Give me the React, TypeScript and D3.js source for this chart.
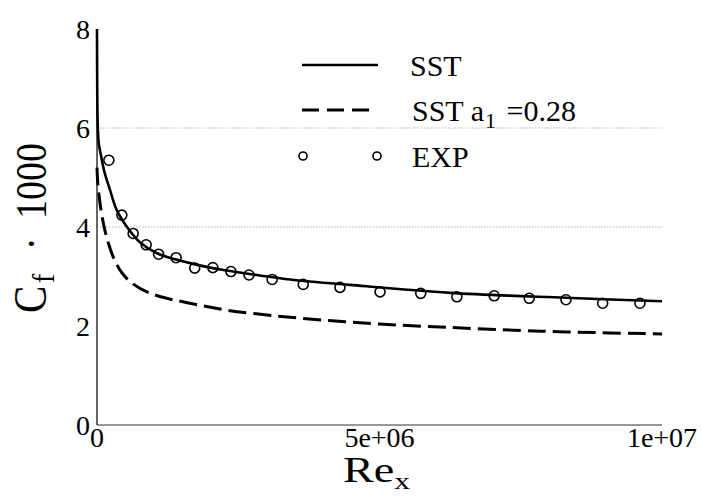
import React from "react";
import * as d3 from "d3";

const xTicks = [0, 5e6, 1e7];
const xTickLabels = ["0", "5e+06", "1e+07"];
const yTicks = [0, 2, 4, 6, 8];
const gridValues = [4, 6];

const sstX = [0, 0.004e6, 0.012e6, 0.03e6, 0.07e6, 0.13e6, 0.23e6, 0.35e6, 0.525e6, 0.76e6, 1.06e6, 1.65e6, 2.24e6, 2.83e6, 3.42e6, 4.48e6, 6.25e6, 8.3e6, 1e7];
const sstY = [8.0, 6.8, 6.1, 5.7, 5.45, 5.12, 4.75, 4.34, 4.01, 3.69, 3.47, 3.27, 3.13, 3.03, 2.94, 2.83, 2.67, 2.57, 2.5];

const a1X = [0, 0.01e6, 0.03e6, 0.07e6, 0.13e6, 0.2e6, 0.3e6, 0.45e6, 0.65e6, 0.9e6, 1.2e6, 1.6e6, 2.3e6, 3.2e6, 4.1e6, 5e6, 6.25e6, 7.5e6, 8.3e6, 1e7];
const a1Y = [5.2, 4.95, 4.7, 4.35, 3.98, 3.68, 3.36, 3.06, 2.84, 2.68, 2.57, 2.47, 2.32, 2.2, 2.11, 2.04, 1.97, 1.91, 1.88, 1.84];

const expX = [0.21e6, 0.44e6, 0.64e6, 0.87e6, 1.09e6, 1.4e6, 1.73e6, 2.05e6, 2.37e6, 2.69e6, 3.1e6, 3.65e6, 4.3e6, 5.01e6, 5.73e6, 6.37e6, 7.03e6, 7.65e6, 8.3e6, 8.95e6, 9.61e6];
const expY = [5.35, 4.24, 3.87, 3.64, 3.45, 3.38, 3.17, 3.18, 3.1, 3.03, 2.94, 2.84, 2.78, 2.69, 2.66, 2.59, 2.61, 2.56, 2.53, 2.46, 2.46];

const FONT = "'Liberation Serif', 'Times New Roman', 'DejaVu Serif', serif";

export default function App() {
  const x = d3.scaleLinear().domain([0, 1e7]).range([97, 662]);
  const y = d3.scaleLinear().domain([0, 8]).range([425, 29]);

  const line = d3
    .line<[number, number]>()
    .x((d) => x(d[0]))
    .y((d) => y(d[1]))
    .curve(d3.curveCatmullRom.alpha(0.5));

  const sstPts = sstX.map((v, i) => [v, sstY[i]] as [number, number]);
  const a1Pts = a1X.map((v, i) => [v, a1Y[i]] as [number, number]);

  const ts = { fontFamily: FONT };

  return (
    <svg
      width={702}
      height={503}
      style={{ position: "absolute", left: 0, top: 0, background: "#fff", fontFamily: FONT }}
    >
      <rect width={702} height={503} fill="#fff" />
      {gridValues.map((g) => (
        <line
          key={g}
          x1={x(0)}
          x2={x(1e7)}
          y1={y(g)}
          y2={y(g)}
          stroke="#b0b0b0"
          strokeWidth={1}
          strokeDasharray="1.5,1.5"
        />
      ))}
      <line x1={x(0)} x2={x(0)} y1={y(8)} y2={y(0)} stroke="#333" strokeWidth={1.5} />
      <line x1={x(0)} x2={x(1e7)} y1={y(0)} y2={y(0)} stroke="#333" strokeWidth={1.2} />

      <path d={line(a1Pts) || ""} fill="none" stroke="#000" strokeWidth={3} strokeDasharray="18,7" />
      <path d={line(sstPts) || ""} fill="none" stroke="#000" strokeWidth={2.6} />
      {expX.map((v, i) => (
        <circle key={i} cx={x(v)} cy={y(expY[i])} r={5} fill="none" stroke="#000" strokeWidth={1.6} />
      ))}

      {yTicks.map((t) => (
        <text key={t} x={90} y={y(t)} dy="0.35em" textAnchor="end" fontSize={28} fill="#000" style={ts}>
          {t}
        </text>
      ))}
      {xTicks.map((t, i) => (
        <text key={t} x={x(t)} y={447} textAnchor="middle" fontSize={28} fill="#000" style={ts}>
          {xTickLabels[i]}
        </text>
      ))}

      <text transform="translate(343,482) scale(1.32,1)" fontSize={35} fill="#000" style={ts}>
        Re
        <tspan fontSize={24} dy={7}>x</tspan>
      </text>
      <text transform="translate(46,313) rotate(-90) scale(1,1.15)" fill="#000" style={ts}>
        <tspan x={0} fontSize={41}>C</tspan>
        <tspan x={30} fontSize={28} dy={7}>f</tspan>
        <tspan x={63} fontSize={38} dy={-7}>·</tspan>
        <tspan x={94} fontSize={38}>1000</tspan>
      </text>

      <line x1={302} x2={378} y1={65} y2={65} stroke="#000" strokeWidth={2.6} />
      <text x={410} y={76} fontSize={30} fill="#000" style={ts}>SST</text>
      <line x1={302} x2={370} y1={110} y2={110} stroke="#000" strokeWidth={3} strokeDasharray="17,8" />
      <text x={412} y={121} fontSize={30} fill="#000" style={ts}>
        SST a
        <tspan fontSize={22} dx={1} dy={7}>1</tspan>
        <tspan dx={3} dy={-7}>{" =0.28"}</tspan>
      </text>
      <circle cx={303} cy={156} r={4} fill="none" stroke="#000" strokeWidth={1.6} />
      <circle cx={377} cy={156} r={4} fill="none" stroke="#000" strokeWidth={1.6} />
      <text x={412} y={167} fontSize={30} fill="#000" style={ts}>EXP</text>
    </svg>
  );
}
